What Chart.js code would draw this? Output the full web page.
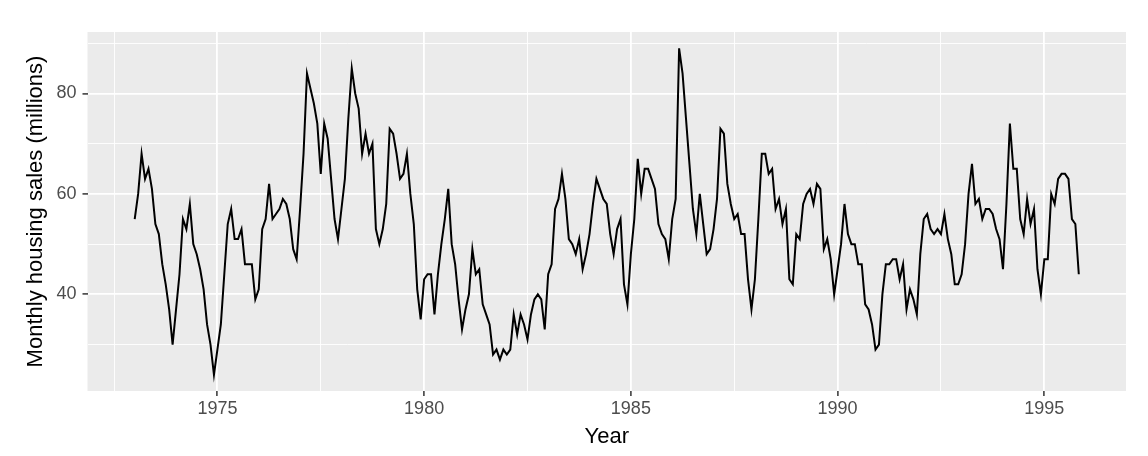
<!DOCTYPE html>
<html>
<head>
<meta charset="utf-8">
<script src="https://cdn.jsdelivr.net/npm/chart.js@4/dist/chart.umd.min.js"></script>
<style>
  body { margin: 0; background: #fff; }
</style>
</head>
<body>
<canvas id="salesChart" width="1148" height="456"></canvas>
<script>
// monthly housing sales, Jan 1973 .. Nov 1995
const startYear = 1973;
const sales = [
  55, 60, 68, 63, 65, 61, 54, 52, 46, 42, 37, 30,
  37, 44, 55, 53, 58, 50, 48, 45, 41, 34, 30, 24,
  29, 34, 44, 54, 57, 51, 51, 53, 46, 46, 46, 39,
  41, 53, 55, 62, 55, 56, 57, 59, 58, 55, 49, 47,
  57, 68, 84, 81, 78, 74, 64, 74, 71, 63, 55, 51,
  57, 63, 75, 85, 80, 77, 68, 72, 68, 70, 53, 50,
  53, 58, 73, 72, 68, 63, 64, 68, 60, 54, 41, 35,
  43, 44, 44, 36, 44, 50, 55, 61, 50, 46, 39, 33,
  37, 40, 49, 44, 45, 38, 36, 34, 28, 29, 27, 29,
  28, 29, 36, 32, 36, 34, 31, 36, 39, 40, 39, 33,
  44, 46, 57, 59, 64, 59, 51, 50, 48, 51, 45, 48,
  52, 58, 63, 61, 59, 58, 52, 48, 53, 55, 42, 38,
  48, 55, 67, 60, 65, 65, 63, 61, 54, 52, 51, 47,
  55, 59, 89, 84, 75, 66, 57, 52, 60, 54, 48, 49,
  53, 59, 73, 72, 62, 58, 55, 56, 52, 52, 43, 37,
  43, 55, 68, 68, 64, 65, 57, 59, 54, 57, 43, 42,
  52, 51, 58, 60, 61, 58, 62, 61, 49, 51, 47, 40,
  45, 50, 58, 52, 50, 50, 46, 46, 38, 37, 34, 29,
  30, 40, 46, 46, 47, 47, 43, 46, 37, 41, 39, 36,
  48, 55, 56, 53, 52, 53, 52, 56, 51, 48, 42, 42,
  44, 50, 60, 66, 58, 59, 55, 57, 57, 56, 53, 51,
  45, 58, 74, 65, 65, 55, 52, 59, 54, 57, 45, 40,
  47, 47, 60, 58, 63, 64, 64, 63, 55, 54, 44
];
const xGrid = [1972.5, 1975, 1977.5, 1980, 1982.5, 1985, 1987.5, 1990, 1992.5, 1995];
const xLabels = [1975, 1980, 1985, 1990, 1995];
const yGrid = [30, 40, 50, 60, 70, 80, 90];
const yLabels = [40, 60, 80];

const points = sales.map((v, i) => ({ x: startYear + i / 12, y: v }));

// ggplot style 5% expansion
const xFirst = startYear, xLast = startYear + (sales.length - 1) / 12;
const xPad = (xLast - xFirst) * 0.05;
const yMin = Math.min(...sales), yMax = Math.max(...sales);
const yPad = (yMax - yMin) * 0.05;

const panelBg = {
  id: 'panelBg',
  beforeDraw(chart) {
    const { ctx, chartArea: a } = chart;
    ctx.save();
    ctx.fillStyle = '#ffffff';
    ctx.fillRect(0, 0, chart.width, chart.height);
    ctx.fillStyle = '#EBEBEB';
    ctx.fillRect(a.left, a.top, a.right - a.left, a.bottom - a.top);
    ctx.restore();
  }
};

const isMajor = (list) => (c) => c.tick && list.includes(c.tick.value);

new Chart(document.getElementById('salesChart'), {
  type: 'line',
  data: {
    datasets: [{
      data: points,
      borderColor: '#000000',
      borderWidth: 2,
      pointRadius: 0,
      tension: 0,
      fill: false
    }]
  },
  plugins: [panelBg],
  options: {
    responsive: false,
    animation: false,
    devicePixelRatio: 1,
    layout: { padding: { left: 0, top: 32, right: 22, bottom: 0 } },
    plugins: { legend: { display: false }, tooltip: { enabled: false } },
    scales: {
      x: {
        type: 'linear',
        min: xFirst - xPad,
        max: xLast + xPad,
        afterBuildTicks: (s) => { s.ticks = xGrid.map(v => ({ value: v })); },
        afterFit: (s) => { s.height = 65; },
        border: { display: false },
        grid: {
          color: '#ffffff',
          lineWidth: (c) => isMajor(xLabels)(c) ? 1.8 : 0.9,
          tickColor: (c) => isMajor(xLabels)(c) ? '#333333' : 'rgba(0,0,0,0)',
          tickLength: 5,
          tickWidth: 1.5
        },
        ticks: {
          autoSkip: false,
          maxRotation: 0,
          padding: 2,
          color: '#4D4D4D',
          font: { family: 'Liberation Sans, Arial, sans-serif', size: 18 },
          callback: (v) => xLabels.includes(v) ? String(v) : ''
        },
        title: {
          display: true,
          text: 'Year',
          color: '#000000',
          font: { family: 'Liberation Sans, Arial, sans-serif', size: 22 },
          padding: { top: 0, bottom: 6 }
        }
      },
      y: {
        min: yMin - yPad,
        max: yMax + yPad,
        afterBuildTicks: (s) => { s.ticks = yGrid.map(v => ({ value: v })); },
        afterFit: (s) => { s.width = 87.5; },
        border: { display: false },
        grid: {
          color: '#ffffff',
          lineWidth: (c) => isMajor(yLabels)(c) ? 1.8 : 0.9,
          tickColor: (c) => isMajor(yLabels)(c) ? '#333333' : 'rgba(0,0,0,0)',
          tickLength: 5,
          tickWidth: 1.5
        },
        ticks: {
          autoSkip: false,
          padding: 6,
          color: '#4D4D4D',
          font: { family: 'Liberation Sans, Arial, sans-serif', size: 18 },
          callback: (v) => yLabels.includes(v) ? String(v) : ''
        },
        title: {
          display: true,
          text: 'Monthly housing sales (millions)',
          color: '#000000',
          font: { family: 'Liberation Sans, Arial, sans-serif', size: 22 },
          padding: { top: 23, bottom: 0 }
        }
      }
    }
  }
});
</script>
</body>
</html>
